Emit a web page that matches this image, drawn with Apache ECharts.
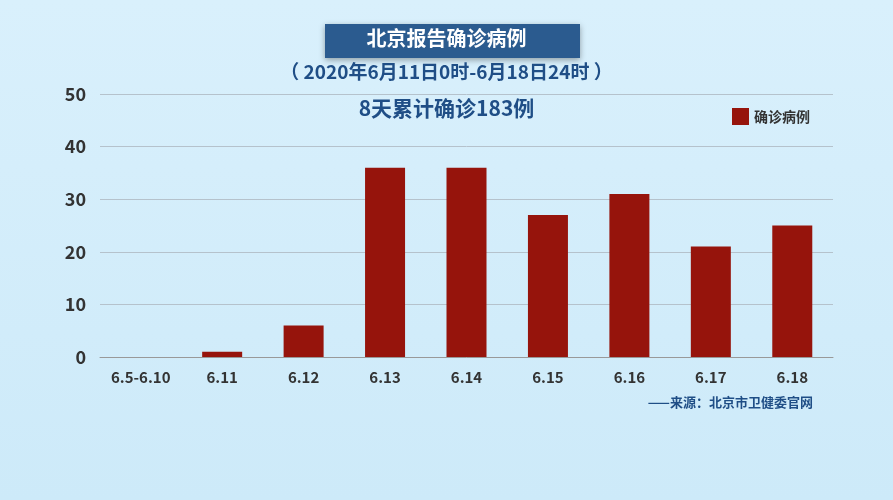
<!DOCTYPE html>
<html>
<head>
<meta charset="utf-8">
<script src="https://cdn.jsdelivr.net/npm/echarts@6/dist/echarts.min.js"></script>
<style>
html,body{margin:0;padding:0;}
#main{width:893px;height:500px;background:linear-gradient(180deg,#d9f0fc 0%,#cdeaf9 100%);}
</style>
</head>
<body>
<div id="main"></div>
<script>
var categories = ['6.5-6.10','6.11','6.12','6.13','6.14','6.15','6.16','6.17','6.18'];
var cases = [0,1,6,36,36,27,31,21,25];
var yTicks = [0,10,20,30,40,50];

var font = '"Noto Sans CJK SC", sans-serif';
var chart = echarts.init(document.getElementById('main'));
chart.setOption({
    textStyle: {fontFamily: font},
    graphic: [
        {type: 'rect', shape: {x: 325, y: 24, width: 255, height: 34},
         style: {fill: '#2b5b8f', shadowBlur: 6, shadowColor: 'rgba(0,0,0,0.35)', shadowOffsetY: 2}},
        {type: 'text', left: 'center', top: 28,
         style: {text: '北京报告确诊病例', fill: '#fff', font: 'bold 20px ' + font}},
        {type: 'text', left: 'center', top: 62,
         style: {text: '（ 2020年6月11日0时-6月18日24时 ）', fill: '#1f4e86', font: 'bold 19px ' + font}},
        {type: 'text', left: 'center', top: 98,
         style: {text: '8天累计确诊183例', fill: '#1f4e86', font: 'bold 21px ' + font}},
        {type: 'text', right: 80, top: 396,
         style: {text: '——来源：北京市卫健委官网', fill: '#1f4e86', font: 'bold 13px ' + font}}
    ],
    legend: {
        data: ['确诊病例'], right: 78, top: 103, itemWidth: 17, itemHeight: 17,
        icon: 'rect', textStyle: {fontSize: 14, fontWeight: 'bold', color: '#333'}
    },
    grid: {left: 100, right: 60, top: 94, bottom: 143},
    xAxis: {
        type: 'category', data: categories,
        axisLine: {lineStyle: {color: '#999'}}, axisTick: {show: false},
        axisLabel: {fontSize: 15, fontWeight: 'bold', color: '#333', margin: 13}
    },
    yAxis: {
        type: 'value', min: yTicks[0], max: yTicks[yTicks.length - 1], interval: 10,
        axisLine: {show: false}, axisTick: {show: false},
        splitLine: {lineStyle: {color: '#b5c2cc'}},
        axisLabel: {fontSize: 18, fontWeight: 'bold', color: '#333', margin: 14}
    },
    series: [{
        name: '确诊病例', type: 'bar', data: cases, barWidth: 40,
        itemStyle: {color: '#96140c'}
    }]
});
</script>
</body>
</html>
